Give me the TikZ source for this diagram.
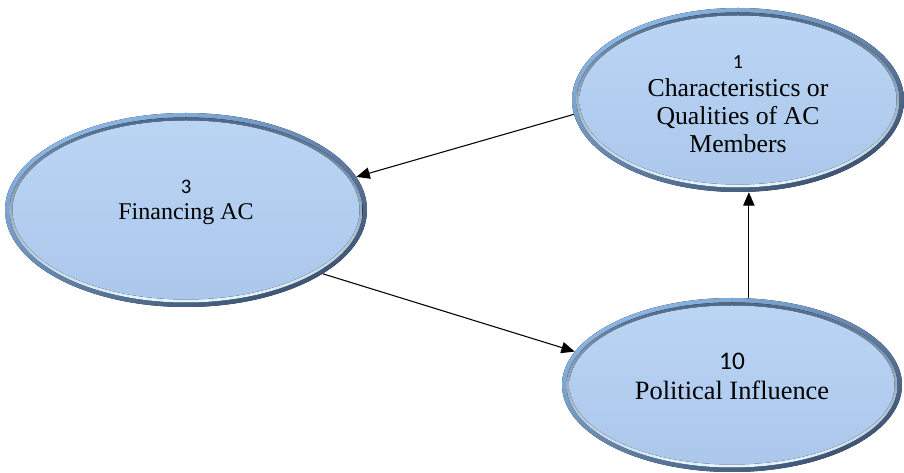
\documentclass[tikz,border=0pt]{standalone}
\usepackage{fontspec}
\setmainfont{Liberation Serif}
\newfontfamily\numfont{Carlito}
\usetikzlibrary{shapes.geometric,arrows.meta}

\definecolor{rimlight}{HTML}{8CB8E8}
\definecolor{rimdark}{HTML}{3C5272}
\definecolor{groovetop}{HTML}{4F6888}
\definecolor{groovebot}{HTML}{E6F6FF}
\definecolor{facetop}{HTML}{BAD5F4}
\definecolor{facebot}{HTML}{ABC7EB}

\tikzset{
  rim/.style={top color=rimlight, bottom color=rimdark, shading angle=25},
  groove/.style={top color=groovetop, bottom color=groovebot},
  face/.style={top color=facetop, bottom color=facebot},
  bubblenode/.style={ellipse, inner sep=0pt},
  label text/.style={align=center, anchor=base, text=black},
  link/.style={-{Triangle[length=10pt,width=8.5pt]}, line width=0.8pt, black},
}

% bevelled oval: name, x, y, x radius, y radius (all in px units)
\newcommand\bubble[5]{%
  \fill[rim] (#2,#3) ellipse [x radius=#4, y radius=#5];
  \fill[groove] (#2,#3) ellipse [x radius={#4-4.5}, y radius={#5-4.5}];
  \fill[face] (#2,#3) ellipse [x radius={#4-7.5}, y radius={#5-7.5}];
  \node[bubblenode, minimum width={1.5*#4 pt}, minimum height={1.5*#5 pt}] (#1) at (#2,#3) {};
}

\begin{document}
\begin{tikzpicture}[x=0.75pt, y=-0.75pt]
  \useasboundingbox (0,0) rectangle (904,473);

  \bubble{n1}{738}{100}{166}{92}
  \bubble{n3}{186}{210}{181}{97}
  \bubble{n10}{732}{385}{170}{87}

  % anchor=base sits on the last line of each label
  \node[label text, font=\fontsize{19.3}{21}\selectfont] (t1) at (738,153)
    {{\numfont\fontsize{15}{21}\selectfont 1}\\Characteristics or\\Qualities of AC\\Members};
  \node[label text, font=\fontsize{18}{20}\selectfont] (t3) at (186,220)
    {{\numfont\fontsize{15.5}{20}\selectfont 3}\\Financing AC};
  \node[label text, font=\fontsize{19.8}{22.5}\selectfont] (t10) at (732,400)
    {{\numfont\fontsize{19}{22.5}\selectfont 10}\\Political Influence};

  \draw[link] (n1.185) -- (n3.11);
  \draw[link] (n3.-25) -- (n10.168);
  \draw[link] (n10.79) -- (n10.79 |- n1.south);
\end{tikzpicture}
\end{document}
